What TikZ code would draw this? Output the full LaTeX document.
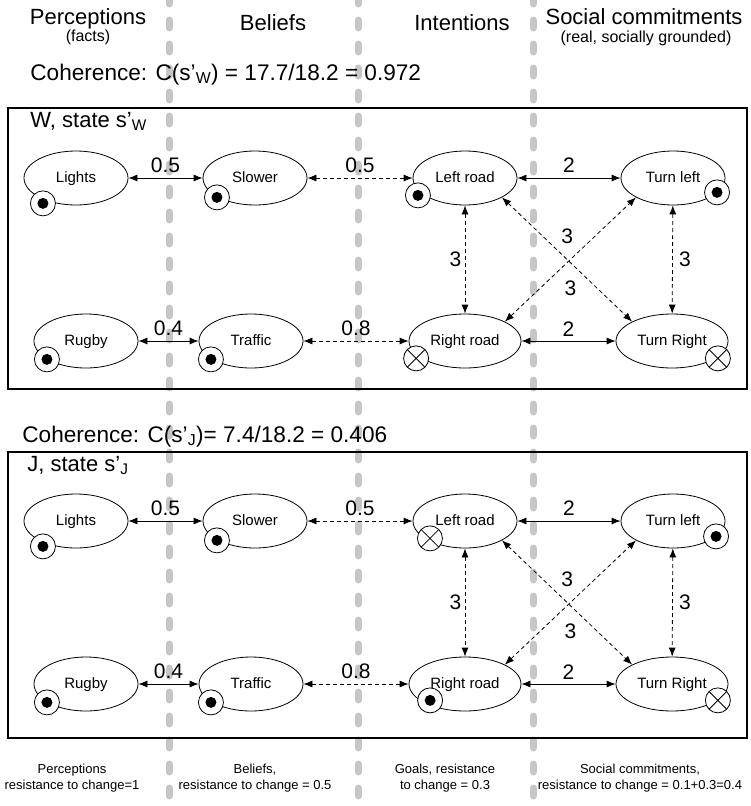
\documentclass[tikz,border=0pt]{standalone}
\usepackage{fontspec}
\setmainfont{Liberation Sans}
\usetikzlibrary{shapes.geometric, arrows.meta, calc, positioning}
\colorlet{lane-color}{gray!45}
\tikzset{
    >={Latex[length=9pt,width=7pt]},
    head/.style = {font=\fontsize{22}{26}\selectfont},
    sub/.style = {font=\fontsize{16}{19}\selectfont},
    foot/.style = {font=\fontsize{13}{16}\selectfont, align=center},
    weight/.style = {font=\fontsize{21}{24}\selectfont},
    state/.style = {ellipse, draw, fill=white, minimum width=104pt, minimum height=54pt,
        inner sep=0pt, text height=11pt, text depth=3pt, font=\fontsize{15}{18}\selectfont},
    onmark/.style = {circle, draw, fill=white, minimum size=25pt, inner sep=0pt,
        path picture={\fill[black] (path picture bounding box.center) circle (5.5pt);}},
    offmark/.style = {circle, draw, fill=white, minimum size=25pt, inner sep=0pt,
        path picture={\draw (path picture bounding box.north west) -- (path picture bounding box.south east)
                            (path picture bounding box.north east) -- (path picture bounding box.south west);}},
    firm/.style = {<->},
    loose/.style = {<->, dash pattern=on 4pt off 3pt},
    lane/.style = {line width=7pt, lane-color, line cap=round, dash pattern=on 8pt off 16pt},
    panel/.style = {draw, line width=1.3pt},
    pics/net/.style = {
        code = {%
        \node[state] (-lights)  at (76,0)  {Lights};
        \node[state] (-slower)  at (255,0) {Slower};
        \node[state] (-left)    at (465,0) {Left road};
        \node[state] (-tleft)   at (673,0) {Turn left};
        \node[state] (-rugby)   at (86,163)  {Rugby};
        \node[state] (-traffic) at (251,163) {Traffic};
        \node[state, minimum width=112pt] (-right)  at (465,163) {Right road};
        \node[state, minimum width=112pt] (-tright) at (672,163) {Turn Right};

        \node[onmark] (-mlights)  at ($(-lights.south west)+(4,6)$) {};
        \node[onmark] (-mslower)  at ($(-slower.south west)+(-1,0)$) {};
        \node[onmark] (-mrugby)   at ($(-rugby.south west)+(-2,-1)$) {};
        \node[onmark] (-mtraffic) at ($(-traffic.south west)+(-3,-1)$) {};
        \ifnum#1=1\relax
            \node[onmark]  (-mleft)   at ($(-left.south west)+(-10,-2)$) {};
            \node[onmark]  (-mtleft)  at ($(-tleft.south east)+(7,-5)$) {};
            \node[offmark] (-mright)  at ($(-right.south west)+(-9,-2)$) {};
            \node[offmark] (-mtright) at ($(-tright.south east)+(6,-2)$) {};
        \else
            \node[offmark] (-mleft)   at ($(-left.south west)+(2,-2)$) {};
            \node[onmark]  (-mtleft)  at ($(-tleft.south east)+(6,-4)$) {};
            \node[onmark]  (-mright)  at ($(-right.south west)+(5,-3)$) {};
            \node[offmark] (-mtright) at ($(-tright.south east)+(6,-3)$) {};
        \fi

        \draw[firm]  (-lights) -- node[midway, weight, above=2pt] {0.5} (-slower);
        \draw[loose] (-slower) -- node[midway, weight, above=2pt] {0.5} (-left);
        \draw[firm]  (-left) -- node[midway, weight, above=2pt] {2} (-tleft);
        \draw[firm]  (-rugby) -- node[midway, weight, above=2pt] {0.4} (-traffic);
        \draw[loose] (-traffic) -- node[midway, weight, above=2pt] {0.8} (-right);
        \draw[firm]  (-right) -- node[midway, weight, above=1pt] {2} (-tright);
        \draw[loose] (-left) -- node[midway, weight, left] {3} (-right);
        \draw[loose] (-tleft) -- node[midway, weight, right=3pt] {3} (-tright);
        \draw[loose] (-left.south east) -- node[midway, weight, above=12pt] {3} (-tright.north west);
        \draw[loose] (-right.north east) -- node[midway, weight, below=18pt] {3} (-tleft.south west);
        }
    },
    pics/net/.default={1},
}

\begin{document}
\begin{tikzpicture}[x=1pt, y=-1pt, line width=0.8pt]
\useasboundingbox (0,0) rectangle (751,806);

% lanes between the columns
\foreach \x in {169,358,533}
    \draw[lane] (\x,-4) -- (\x,810);

% column heads
\node[head, anchor=base] (perc)    at (88,24)  {Perceptions};
\node[sub, anchor=base]  (percsub) at (88,41)  {(facts)};
\node[head, anchor=base] (bel)     at (273,30) {Beliefs};
\node[head, anchor=base] (int)     at (462,30) {Intentions};
\node[head, anchor=base] (soc)     at (644,24) {Social commitments};
\node[sub, anchor=base]  (socsub)  at (646,42) {(real, socially grounded)};

% state W
\node[head, anchor=base west, inner sep=0pt, font=\fontsize{22.6}{26}\selectfont] (cohw) at (30,80) {Coherence: C(s’\textsubscript{W}) = 17.7/18.2 = 0.972};
\draw[panel] (8,108) rectangle (747,389);
\node[head, anchor=base west, inner sep=0pt] (titlew) at (30,127) {W, state s’\textsubscript{W}};
\pic (w) at (0,178) {net=1};

% state J
\node[head, anchor=base west, inner sep=0pt, font=\fontsize{22.6}{26}\selectfont] (cohj) at (22,442) {Coherence: C(s’\textsubscript{J})= 7.4/18.2 = 0.406};
\draw[panel] (8,452) rectangle (747,738);
\node[head, anchor=base west, inner sep=0pt] (titlej) at (27,471) {J, state s’\textsubscript{J}};
\pic (j) at (0,521) {net=2};

% resistance to change
\node[foot] (rperc) at (72,778)  {Perceptions\\resistance to change=1};
\node[foot] (rbel)  at (255,778) {Beliefs,\\resistance to change = 0.5};
\node[foot] (rint)  at (445,778) {Goals, resistance\\to change = 0.3};
\node[foot] (rsoc)  at (640,778) {Social commitments,\\resistance to change = 0.1+0.3=0.4};
\end{tikzpicture}
\end{document}
